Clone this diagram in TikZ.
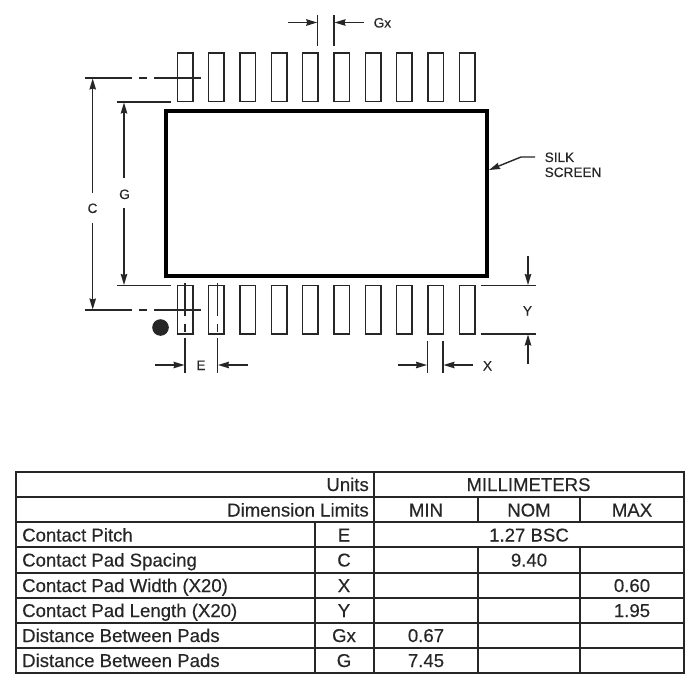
\documentclass[tikz,border=0pt]{standalone}
\usepackage{fontspec}
\setmainfont[FakeBold=0.25]{Liberation Sans}
\usetikzlibrary{arrows.meta}
\definecolor{ink}{HTML}{262626}
\tikzset{
  pad/.style={draw=ink,line width=1.5pt,minimum width=15.5pt,minimum height=48.5pt,inner sep=0pt,outer sep=0pt},
  thin line/.style={draw=ink,line width=1.4pt},
  dimarrow/.style={draw=ink,line width=1.4pt,-{Stealth[length=11pt,width=6.5pt,inset=1pt]}},
  silk/.style={draw=black,line width=3.4pt,line join=miter},
  grid line/.style={draw=ink,line width=2pt,line cap=rect},
  small/.style={inner sep=0pt,text=ink,font=\fontsize{13.6}{15}\selectfont},
  cell/.style={inner sep=0pt,text=ink,font=\fontsize{18.6}{20}\selectfont},
}
\begin{document}
\begin{tikzpicture}[x=1pt,y=-1pt]
\useasboundingbox (0,0) rectangle (700,700);
\fill[white] (0,0) rectangle (700,700);
% pads
\foreach \i in {0,...,9}{
  \pgfmathsetmacro{\px}{185+31.35*\i}
  \node[pad] (t\i) at (\px,77.5) {};
  \node[pad] (b\i) at (\px,309.7) {};
}
% package outline
\node[silk,minimum width=321pt,minimum height=165pt,inner sep=0pt,outer sep=0pt] (pkg) at (326.3,193.5) {};
\fill[ink] (160.5,327.5) circle (8.3);
% Gx
\draw[thin line] (317.7,15) -- (317.7,46);
\draw[thin line] (334,15) -- (334,46);
\draw[dimarrow] (288,22.5) -- (317.2,22.5);
\draw[dimarrow] (364,22.5) -- (334.5,22.5);
\node[small,anchor=base west] (gxl) at (373.5,27.5) {Gx};
% C
\draw[thin line] (85,78) -- (132,78) (139,78) -- (147,78) (154,78) -- (201,78);
\draw[thin line] (85,310) -- (132,310) (139,310) -- (147,310) (154,310) -- (201,310);
\draw[dimarrow] (92.7,193) -- (92.7,78.5);
\draw[dimarrow] (92.7,223) -- (92.7,309.5);
\node[small,anchor=base] (cl) at (92.5,213) {C};
% G
\draw[thin line] (117,102) -- (170.5,102);
\draw[thin line] (117,285.5) -- (170.5,285.5);
\draw[dimarrow] (124,178.5) -- (124,102.5);
\draw[dimarrow] (124,208) -- (124,285);
\node[small,anchor=base] (gl) at (124.5,199) {G};
% E
\draw[thin line] (185,283) -- (185,316) (185,324) -- (185,332) (185,338) -- (185,373);
\draw[thin line] (217.5,283) -- (217.5,316) (217.5,324) -- (217.5,332) (217.5,338) -- (217.5,373);
\draw[dimarrow] (155,365) -- (184.5,365);
\draw[dimarrow] (247.5,365) -- (218,365);
\node[small,anchor=base] (el) at (201,370) {E};
% X
\draw[thin line] (427.5,341) -- (427.5,373);
\draw[thin line] (443,341) -- (443,373);
\draw[dimarrow] (398,365) -- (427,365);
\draw[dimarrow] (473,365) -- (443.5,365);
\node[small,anchor=base] (xl) at (487.5,370.5) {X};
% Y
\draw[thin line] (481,285.5) -- (536,285.5);
\draw[thin line] (481,334) -- (536,334);
\draw[dimarrow] (528,256) -- (528,285);
\draw[dimarrow] (528,364) -- (528,334.5);
\node[small,anchor=base] (yl) at (527.5,315.5) {Y};
% silk screen
\node[small,anchor=base west] (s1) at (544.5,162) {SILK};
\node[small,anchor=base west] (s2) at (544.5,177) {SCREEN};
\coordinate (lead) at (535,157);
\draw[dimarrow] (lead) -- (521,157) -- (489,170);
% table grid
\draw[grid line] (15.5,472) rectangle (684,673);
\foreach \yy in {497,522,547,573,597.5,623,648}{
  \draw[grid line] (15.5,\yy) -- (684,\yy);
}
\draw[grid line] (315,522) -- (315,673);
\draw[grid line] (374,472) -- (374,673);
\draw[grid line] (477.5,497) -- (477.5,522) (477.5,547) -- (477.5,673);
\draw[grid line] (580,497) -- (580,522) (580,547) -- (580,673);
% table text
\node[cell,anchor=base east] (u) at (369,491) {Units};
\node[cell,anchor=base] (mm) at (528.5,491) {MILLIMETERS};
\node[cell,anchor=base east] (dl) at (369,516.5) {Dimension Limits};
\node[cell,anchor=base] (mn) at (426,516.5) {MIN};
\node[cell,anchor=base] (nm) at (529,516.5) {NOM};
\node[cell,anchor=base] (mx) at (632,516.5) {MAX};
\node[cell,anchor=base west] (r1) at (22,541.5) {Contact Pitch};
\node[cell,anchor=base] (r1s) at (344,541.5) {E};
\node[cell,anchor=base] (r1v) at (529,541.5) {1.27 BSC};
\node[cell,anchor=base west] (r2) at (22,566.5) {Contact Pad Spacing};
\node[cell,anchor=base] (r2s) at (344,566.5) {C};
\node[cell,anchor=base] (r2v) at (529,566.5) {9.40};
\node[cell,anchor=base west] (r3) at (22,592) {Contact Pad Width (X20)};
\node[cell,anchor=base] (r3s) at (344,592) {X};
\node[cell,anchor=base] (r3v) at (632,592) {0.60};
\node[cell,anchor=base west] (r4) at (22,617) {Contact Pad Length (X20)};
\node[cell,anchor=base] (r4s) at (344,617) {Y};
\node[cell,anchor=base] (r4v) at (632,617) {1.95};
\node[cell,anchor=base west] (r5) at (22,642) {Distance Between Pads};
\node[cell,anchor=base] (r5s) at (344,642) {Gx};
\node[cell,anchor=base] (r5v) at (426,642) {0.67};
\node[cell,anchor=base west] (r6) at (22,667) {Distance Between Pads};
\node[cell,anchor=base] (r6s) at (344,667) {G};
\node[cell,anchor=base] (r6v) at (426,667) {7.45};
\end{tikzpicture}
\end{document}
